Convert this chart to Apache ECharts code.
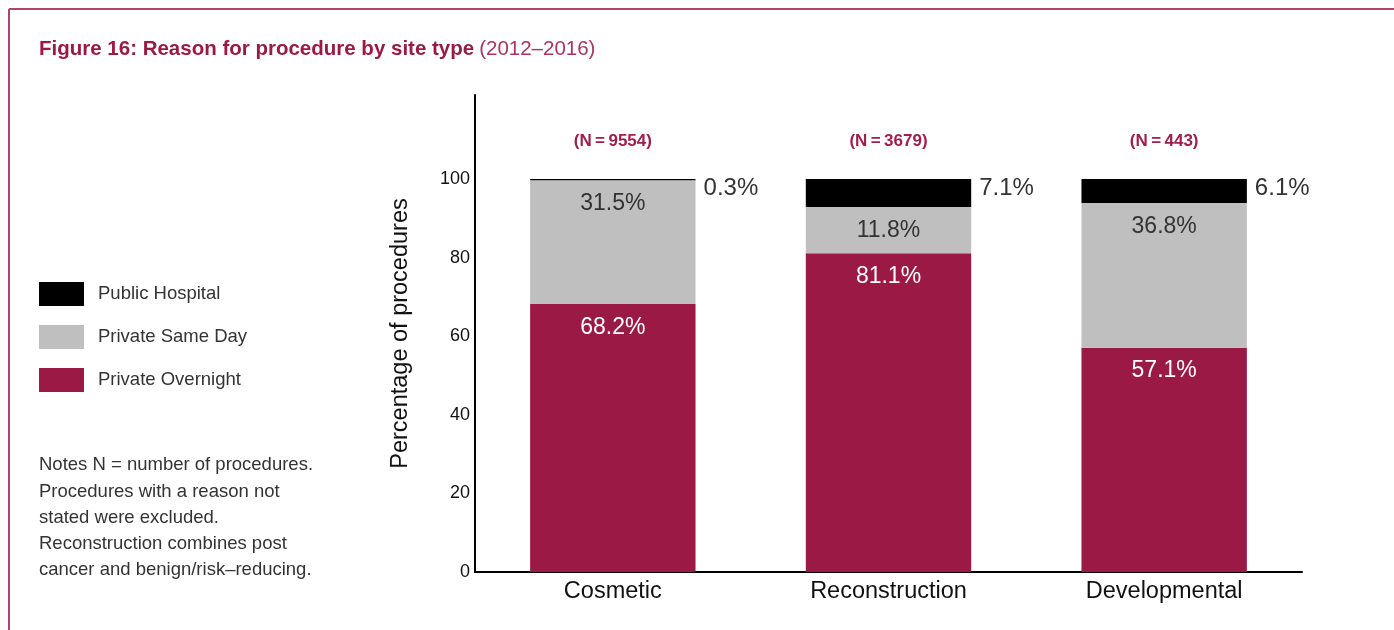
<!DOCTYPE html>
<html>
<head>
<meta charset="utf-8">
<script src="https://cdn.jsdelivr.net/npm/echarts@6/dist/echarts.min.js"></script>
<style>
  html, body { margin: 0; padding: 0; background: #fff; }
  #chart { width: 1394px; height: 630px; }
</style>
</head>
<body>
<div id="chart"></div>
<script>
  // data
  var categories = ['Cosmetic', 'Reconstruction', 'Developmental'];
  var privateOvernight = [68.2, 81.1, 57.1];
  var privateSameDay = [31.5, 11.8, 36.8];
  var publicHospital = [0.3, 7.1, 6.1];
  var nCounts = ['9554', '3679', '443'];
  var yTicks = [0, 20, 40, 60, 80, 100];

  var maroon = '#9b1a45';
  var grey = '#bfbfbf';
  var font = 'Liberation Sans';

  var myChart = echarts.init(document.getElementById('chart'));

  var notes = [
    'Notes N = number of procedures.',
    'Procedures with a reason not',
    'stated were excluded.',
    'Reconstruction combines post',
    'cancer and benign/risk\u2013reducing.'
  ];

  option = {
    textStyle: { fontFamily: font },
    animation: false,
    title: {
      left: 39,
      top: 39,
      padding: 0,
      text: '{b|Figure 16: Reason for procedure by site type} {n|(2012\u20132016)}',
      textStyle: {
        rich: {
          b: { fontSize: 20.5, fontWeight: 'bold', color: '#9b1a45', fontFamily: font },
          n: { fontSize: 20.5, fontWeight: 'normal', color: '#a8355f', fontFamily: font }
        }
      }
    },
    legend: {
      orient: 'vertical',
      left: 39,
      top: 282,
      padding: 0,
      itemWidth: 45,
      itemHeight: 24,
      itemGap: 19,
      icon: 'rect',
      data: ['Public Hospital', 'Private Same Day', 'Private Overnight'],
      textStyle: { fontSize: 18.5, color: '#333', padding: [3, 0, 0, 9] }
    },
    grid: { left: 475, right: 92, top: 95, bottom: 58 },
    xAxis: {
      type: 'category',
      data: categories,
      axisTick: { show: false },
      axisLine: { lineStyle: { color: '#000', width: 2 } },
      axisLabel: { fontSize: 23.5, color: '#111', margin: 8 }
    },
    yAxis: {
      type: 'value',
      min: 0,
      max: 121.4,
      interval: 20,
      name: 'Percentage of procedures',
      nameLocation: 'middle',
      nameGap: 62,
      nameTextStyle: { fontSize: 23.5, color: '#111' },
      splitLine: { show: false },
      axisTick: { show: false },
      axisLine: { show: true, lineStyle: { color: '#000', width: 2 } },
      axisLabel: {
        fontSize: 18,
        color: '#111',
        margin: 5,
        formatter: function (v) { return yTicks.indexOf(v) >= 0 ? v : ''; }
      }
    },
    series: [
      {
        name: 'Private Overnight',
        type: 'bar',
        stack: 'site',
        barWidth: '60%',
        data: privateOvernight,
        itemStyle: { color: maroon },
        label: {
          show: true, position: 'insideTop', distance: 12,
          fontSize: 23, color: '#fff', formatter: '{c}%'
        }
      },
      {
        name: 'Private Same Day',
        type: 'bar',
        stack: 'site',
        data: privateSameDay,
        itemStyle: { color: grey },
        label: {
          show: true, position: 'insideTop', distance: 12,
          fontSize: 23, color: '#333', formatter: '{c}%'
        }
      },
      {
        name: 'Public Hospital',
        type: 'bar',
        stack: 'site',
        data: publicHospital,
        itemStyle: { color: '#000' },
        label: {
          show: true, position: ['100%', 0], offset: [8, -3],
          align: 'left', verticalAlign: 'top',
          fontSize: 24, color: '#333', formatter: '{c}%'
        }
      },
      {
        name: 'N',
        type: 'scatter',
        symbolSize: 0,
        silent: true,
        itemStyle: { opacity: 1 },
        data: [[0, 109.5], [1, 109.5], [2, 109.5]],
        label: {
          show: true, position: 'inside',
          fontSize: 17, fontWeight: 'bold', color: '#9e1f4b',
          formatter: function (p) { return '(N\u2009=\u2009' + nCounts[p.dataIndex] + ')'; }
        }
      }
    ],
    graphic: [
      { type: 'line', shape: { x1: 9, y1: 9, x2: 1394, y2: 9 }, style: { stroke: '#b4426e', lineWidth: 2 } },
      { type: 'line', shape: { x1: 9, y1: 9, x2: 9, y2: 630 }, style: { stroke: '#b4426e', lineWidth: 2 } },
      {
        type: 'text', left: 39, top: 452,
        style: { text: notes.join('\n'), fontSize: 18.5, lineHeight: 26.3, fill: '#333', fontFamily: font }
      }
    ]
  };

  myChart.setOption(option);
</script>
</body>
</html>
